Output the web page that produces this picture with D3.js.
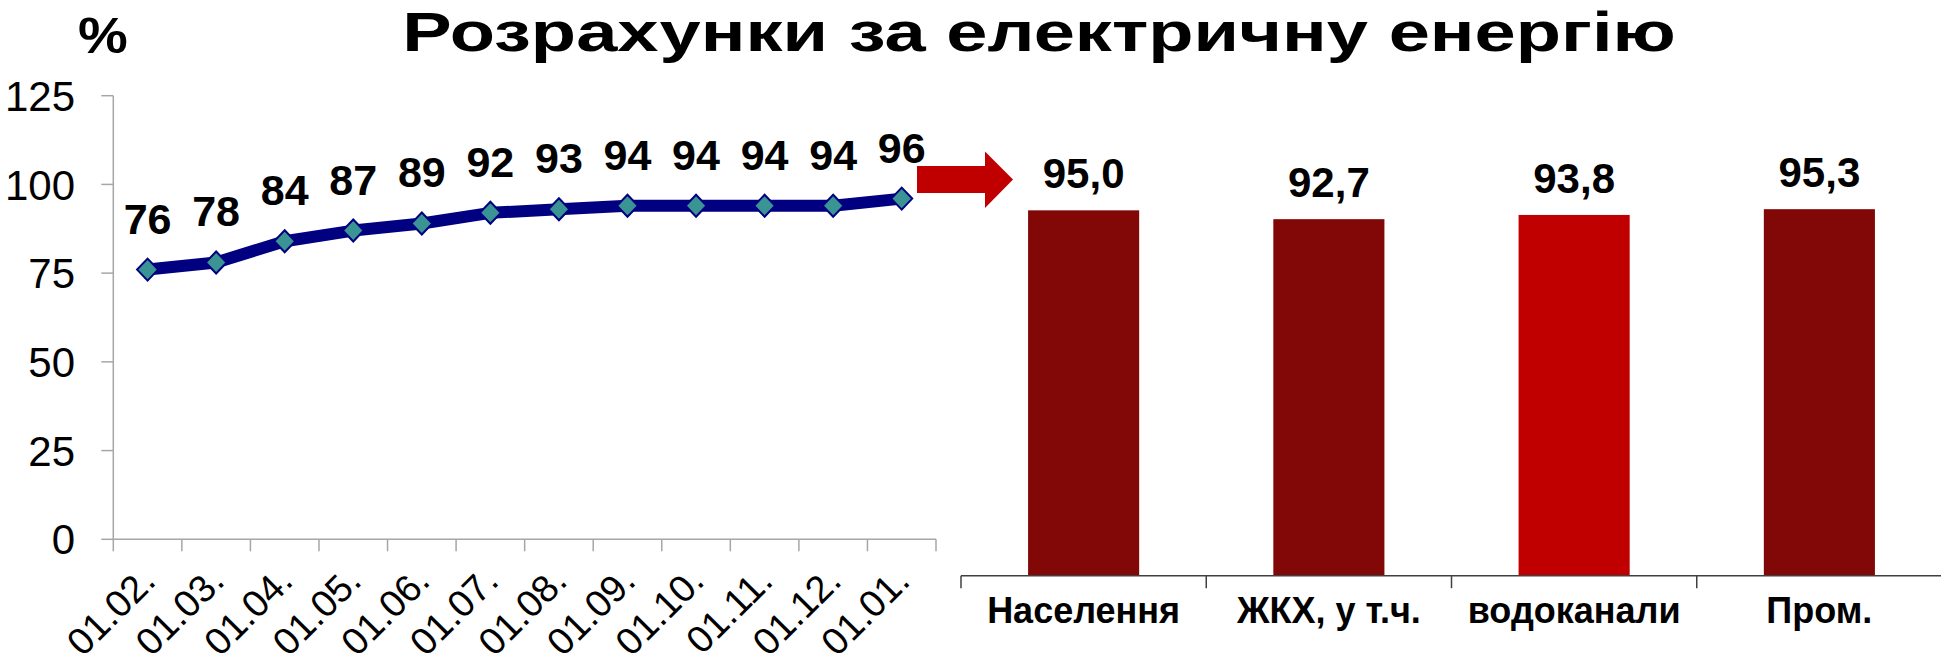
<!DOCTYPE html>
<html>
<head>
<meta charset="utf-8">
<script src="https://cdn.jsdelivr.net/npm/d3@7"></script>
<style>
  html, body { margin: 0; padding: 0; background: #fff; }
  svg { display: block; font-family: "Liberation Sans", Arial, sans-serif; }
</style>
</head>
<body>
<svg id="chart" width="1941" height="665"></svg>
<script>
var titleText = 'Розрахунки за електричну енергію';
var unitText = '%';

// left: monthly level of payments
var dates = ['01.02.', '01.03.', '01.04.', '01.05.', '01.06.', '01.07.', '01.08.', '01.09.', '01.10.', '01.11.', '01.12.', '01.01.'];
var levels = [76, 78, 84, 87, 89, 92, 93, 94, 94, 94, 94, 96];
var yTicks = [0, 25, 50, 75, 100, 125];

// right: by consumer group
var groups = ['Населення', 'ЖКХ, у т.ч.', 'водоканали', 'Пром.'];
var groupValues = [95.0, 92.7, 93.8, 95.3];
var groupColors = ['#820808', '#820808', '#c00000', '#820808'];

var svg = d3.select('#chart');

// title, fitted to the width it takes in the original
var title = svg.append('text')
  .attr('text-anchor', 'middle')
  .attr('font-size', 56)
  .attr('font-weight', 'bold')
  .text(titleText);
var tw = title.node().getComputedTextLength();
title.attr('transform', `translate(1039,51) scale(${1274 / tw},1)`);

svg.append('text')
  .attr('text-anchor', 'middle')
  .attr('font-size', 50)
  .attr('font-weight', 'bold')
  .attr('transform', 'translate(103,53) scale(1.12,1)')
  .text(unitText);

// ---- line chart
var x = d3.scaleBand().domain(dates).range([113.3, 936]).padding(0);
var y = d3.scaleLinear().domain([0, 125]).range([539.3, 95.7]);
var cx = d => x(d) + x.bandwidth() / 2;
var gray = '#a6a6a6';

var left = svg.append('g');

left.append('line')
  .attr('x1', x.range()[0]).attr('x2', x.range()[0])
  .attr('y1', y(125)).attr('y2', y(0))
  .attr('stroke', gray).attr('stroke-width', 1.5);

left.selectAll('line.ytick').data(yTicks).enter().append('line')
  .attr('class', 'ytick')
  .attr('x1', x.range()[0] - 12).attr('x2', x.range()[0])
  .attr('y1', d => y(d)).attr('y2', d => y(d))
  .attr('stroke', gray).attr('stroke-width', 1.5);

left.selectAll('text.ylab').data(yTicks).enter().append('text')
  .attr('class', 'ylab')
  .attr('text-anchor', 'end')
  .attr('font-size', 42)
  .attr('x', 75)
  .attr('y', d => y(d))
  .attr('dy', '0.36em')
  .text(d => d);

left.append('line')
  .attr('x1', x.range()[0]).attr('x2', x.range()[1])
  .attr('y1', y(0)).attr('y2', y(0))
  .attr('stroke', gray).attr('stroke-width', 1.5);

var bounds = dates.map(d => x(d)).concat([x.range()[1]]);
left.selectAll('line.xtick').data(bounds).enter().append('line')
  .attr('class', 'xtick')
  .attr('x1', d => d).attr('x2', d => d)
  .attr('y1', y(0)).attr('y2', y(0) + 12)
  .attr('stroke', gray).attr('stroke-width', 1.5);

left.selectAll('text.xlab').data(dates).enter().append('text')
  .attr('class', 'xlab')
  .attr('text-anchor', 'end')
  .attr('font-size', 38)
  .attr('transform', d => `translate(${cx(d) + 10},583) rotate(-45)`)
  .text(d => d);

var pts = dates.map((d, i) => [cx(d), y(levels[i])]);

left.append('path')
  .attr('d', d3.line()(pts))
  .attr('fill', 'none')
  .attr('stroke', '#000080')
  .attr('stroke-width', 12)
  .attr('stroke-linejoin', 'round');

// diamond markers
left.selectAll('path.marker').data(pts).enter().append('path')
  .attr('class', 'marker')
  .attr('d', p => `M${p[0]},${p[1] - 11}L${p[0] + 10.5},${p[1]}L${p[0]},${p[1] + 11}L${p[0] - 10.5},${p[1]}Z`)
  .attr('fill', '#3a9494')
  .attr('stroke', '#000080')
  .attr('stroke-width', 2);

left.selectAll('text.val').data(levels).enter().append('text')
  .attr('class', 'val')
  .attr('text-anchor', 'middle')
  .attr('font-size', 43)
  .attr('font-weight', 'bold')
  .attr('x', (d, i) => cx(dates[i]))
  .attr('y', d => y(d) - 36)
  .text(d => d);

// red arrow between the two charts
var ax = x.range()[1] - 19, ay = y(levels[levels.length - 1]) - 19;
svg.append('path')
  .attr('d', `M${ax},${ay - 13.5}L${ax + 68},${ay - 13.5}L${ax + 68},${ay - 28}L${ax + 96},${ay}` +
    `L${ax + 68},${ay + 28.5}L${ax + 68},${ay + 13.5}L${ax},${ay + 13.5}Z`)
  .attr('fill', '#c00000');

// ---- bar chart
var x2 = d3.scaleBand().domain(groups).range([961, 1942]).padding(0);
var y2 = d3.scaleLinear().domain([0, 100]).range([575.7, 191.1]);
var bw = x2.bandwidth() * 0.453;

var right = svg.append('g');

right.selectAll('rect').data(groupValues).enter().append('rect')
  .attr('x', (d, i) => x2(groups[i]) + (x2.bandwidth() - bw) / 2)
  .attr('width', bw)
  .attr('y', d => y2(d))
  .attr('height', d => y2(0) - y2(d))
  .attr('fill', (d, i) => groupColors[i]);

right.append('line')
  .attr('x1', x2.range()[0]).attr('x2', x2.range()[1])
  .attr('y1', y2(0)).attr('y2', y2(0))
  .attr('stroke', '#404040').attr('stroke-width', 1.5);

right.selectAll('line.tick').data(groups).enter().append('line')
  .attr('class', 'tick')
  .attr('x1', d => x2(d)).attr('x2', d => x2(d))
  .attr('y1', y2(0)).attr('y2', y2(0) + 12.5)
  .attr('stroke', '#404040').attr('stroke-width', 1.5);

right.selectAll('text.cat').data(groups).enter().append('text')
  .attr('class', 'cat')
  .attr('text-anchor', 'middle')
  .attr('font-size', 36)
  .attr('font-weight', 'bold')
  .attr('x', d => x2(d) + x2.bandwidth() / 2)
  .attr('y', 622.7)
  .text(d => d);

right.selectAll('text.bval').data(groupValues).enter().append('text')
  .attr('class', 'bval')
  .attr('text-anchor', 'middle')
  .attr('font-size', 42)
  .attr('font-weight', 'bold')
  .attr('x', (d, i) => x2(groups[i]) + x2.bandwidth() / 2)
  .attr('y', d => y2(d) - 22)
  .text(d => d3.format('.1f')(d).replace('.', ','));
</script>
</body>
</html>
